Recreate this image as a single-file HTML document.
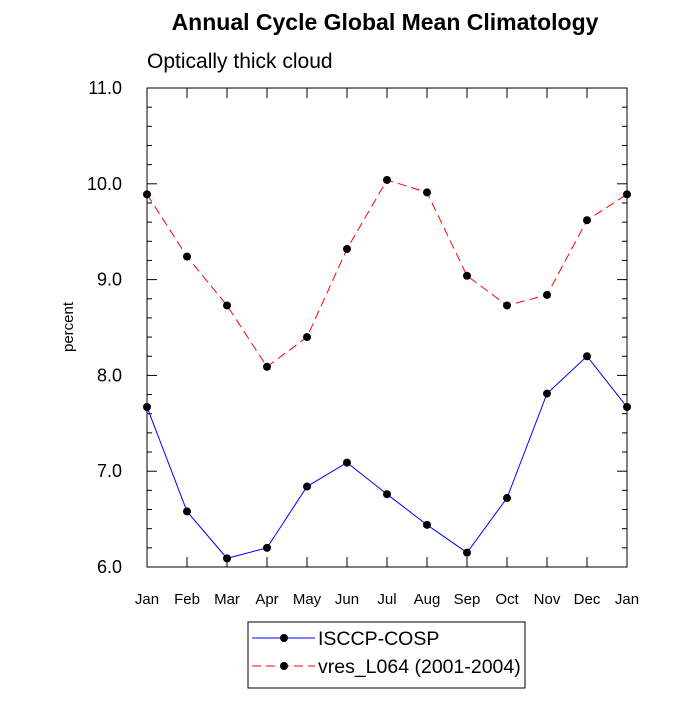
<!DOCTYPE html>
<html><head><meta charset="utf-8"><style>
body{margin:0;background:#fff}
svg text{font-family:"Liberation Sans",sans-serif}
</style></head><body>
<svg id="c" width="700" height="700" viewBox="0 0 700 700"></svg>
<script>
const months=["Jan","Feb","Mar","Apr","May","Jun","Jul","Aug","Sep","Oct","Nov","Dec","Jan"];
const isccp=[7.67,6.58,6.09,6.20,6.84,7.09,6.76,6.44,6.15,6.72,7.81,8.20,7.67];
const vres=[9.89,9.24,8.73,8.09,8.40,9.32,10.04,9.91,9.04,8.73,8.84,9.62,9.89];
const yTicks=[6,7,8,9,10,11];
const svg=document.getElementById('c');
const NS='http://www.w3.org/2000/svg';
const L=147,R=627,T=88,B=567,ymin=6,ymax=11;
const xs=i=>L+i*(R-L)/(months.length-1);
const ys=v=>B-(v-ymin)/(ymax-ymin)*(B-T);
function mk(t,a,p){const e=document.createElementNS(NS,t);for(const k in a)e.setAttribute(k,a[k]);(p||svg).appendChild(e);return e;}
let e;
e=mk('text',{x:385,y:30,'text-anchor':'middle','font-size':23,'font-weight':'bold'});e.textContent='Annual Cycle Global Mean Climatology';


e=mk('text',{x:147,y:68,'font-size':21});e.textContent='Optically thick cloud';


e=mk('text',{x:0,y:0,'font-size':15,'text-anchor':'middle',transform:'translate(73,327) rotate(-90)'});e.textContent='percent';


e=mk('rect',{x:L,y:T,width:R-L,height:B-T,fill:'none',stroke:'#000','stroke-width':1});


for(let v=ymin;v<=ymax+1e-9;v+=0.2){const y=ys(v);const maj=Math.abs(v-Math.round(v))<1e-6;const len=maj?10:5;
mk('line',{x1:L,x2:L+len,y1:y,y2:y,stroke:'#000'});mk('line',{x1:R,x2:R-len,y1:y,y2:y,stroke:'#000'});}
yTicks.forEach(v=>{e=mk('text',{x:122,y:ys(v)+6,'text-anchor':'end','font-size':18});e.textContent=v.toFixed(1);

});
months.forEach((m,i)=>{const x=xs(i);mk('line',{x1:x,x2:x,y1:B,y2:B-10,stroke:'#000'});mk('line',{x1:x,x2:x,y1:T,y2:T+10,stroke:'#000'});
e=mk('text',{x:x,y:604,'text-anchor':'middle','font-size':15});e.textContent=m;

});
function series(vals,color,dash,name){
 e=mk('polyline',{points:vals.map((v,i)=>xs(i)+','+ys(v)).join(' '),fill:'none',stroke:color,'stroke-width':1,'stroke-dasharray':dash});
 
 
 vals.forEach((v,i)=>{e=mk('circle',{cx:xs(i),cy:ys(v),r:4,fill:'#000'});
 
 });
}
series(isccp,'#00f','none','isccp-cosp');
series(vres,'#f00','9 5','vres-l064');
const g=mk('g',{});


mk('rect',{x:248,y:622,width:277,height:66,fill:'none',stroke:'#000'},g);
mk('line',{x1:252,x2:315,y1:638,y2:638,stroke:'#00f'},g);mk('circle',{cx:284,cy:638,r:4},g);
e=mk('text',{x:318,y:645,'font-size':19.5},g);e.textContent='ISCCP-COSP';


mk('line',{x1:252,x2:315,y1:666,y2:666,stroke:'#f00','stroke-dasharray':'9 5'},g);mk('circle',{cx:284,cy:666,r:4},g);
e=mk('text',{x:318,y:673,'font-size':19.5},g);e.textContent='vres_L064 (2001-2004)';


</script>
</body></html>
